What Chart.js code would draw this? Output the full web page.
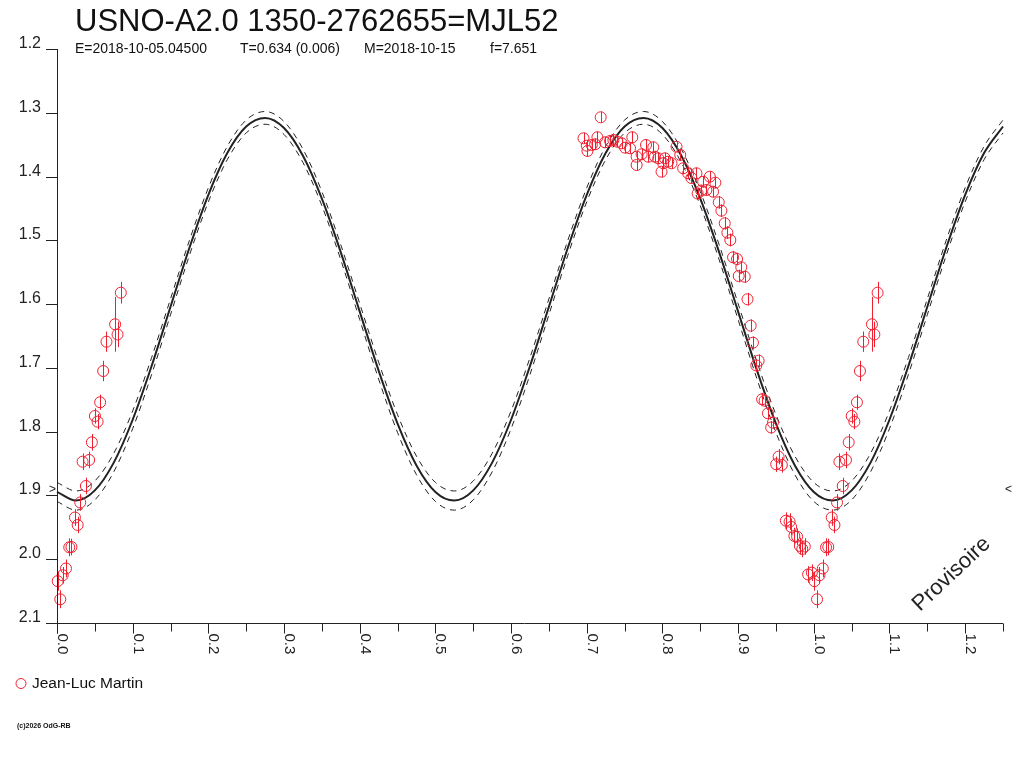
<!DOCTYPE html>
<html>
<head>
<meta charset="utf-8">
<script src="https://cdn.jsdelivr.net/npm/chart.js@4/dist/chart.umd.min.js"></script>
<style>
  html, body { margin: 0; padding: 0; background: #fff; }
  #wrap { width: 1024px; height: 768px; }
</style>
</head>
<body>
<div id="wrap"><canvas id="lc" width="1024" height="768"></canvas></div>
<script>
// observed phases / magnitudes / errors (phases >= 1 are also shown at phase - 1)
const obsPhase = [
  0.6957, 0.7000, 0.7009, 0.7066, 0.7111, 0.7141, 0.7184, 0.7242, 0.7308, 0.7352,
  0.7404, 0.7461, 0.7506, 0.7572, 0.7602, 0.7659, 0.7659, 0.7725, 0.7783, 0.7813,
  0.7879, 0.7901, 0.7945, 0.7988, 0.8011, 0.8033, 0.8076, 0.8120, 0.8186, 0.8235,
  0.8274, 0.8340, 0.8383, 0.8449, 0.8465, 0.8511, 0.8538, 0.8581, 0.8626, 0.8669,
  0.8699, 0.8744, 0.8779, 0.8823, 0.8858, 0.8897, 0.8933, 0.8986, 0.9008, 0.9042,
  0.9087, 0.9124, 0.9166, 0.9196, 0.9240, 0.9271, 0.9317, 0.9350, 0.9394, 0.9437,
  0.9460, 0.9503, 0.9535, 0.9578, 0.9631, 0.9680, 0.9701, 0.9743, 0.9780, 0.9816,
  0.9848, 0.9881, 0.9925, 0.9974, 1.0009, 1.0043, 1.0075, 1.0119, 1.0162, 1.0191,
  1.0237, 1.0273, 1.0307, 1.0338, 1.0382, 1.0425, 1.0461, 1.0501, 1.0536, 1.0570,
  1.0610, 1.0654, 1.0768, 1.0800, 1.0843
];
const obsMag = [
  1.3400, 1.3516, 1.3599, 1.3505, 1.3494, 1.3384, 1.3071, 1.3463, 1.3442, 1.3427,
  1.3453, 1.3479, 1.3547, 1.3557, 1.3384, 1.3689, 1.3819, 1.3651, 1.3505, 1.3689,
  1.3541, 1.3689, 1.3714, 1.3924, 1.3792, 1.3714, 1.3767, 1.3792, 1.3532, 1.3661,
  1.3870, 1.3949, 1.4023, 1.3949, 1.4266, 1.4219, 1.4081, 1.4211, 1.4002, 1.4237,
  1.4096, 1.4404, 1.4535, 1.4733, 1.4880, 1.4995, 1.5266, 1.5293, 1.5559, 1.5423,
  1.5570, 1.5924, 1.6338, 1.6605, 1.6962, 1.6887, 1.7492, 1.7514, 1.7712, 1.7934,
  1.7859, 1.8511, 1.8392, 1.8522, 1.9396, 1.9411, 1.9494, 1.9636, 1.9647, 1.9792,
  1.9839, 1.9800, 2.0239, 2.0211, 2.0344, 2.0628, 2.0252, 2.0145, 1.9813, 1.9808,
  1.9346, 1.9463, 1.9110, 1.8471, 1.8852, 1.8444, 1.8167, 1.7754, 1.7843, 1.7539,
  1.7049, 1.6589, 1.6316, 1.6476, 1.5821
];
const obsErr = [
  0.009, 0.009, 0.009, 0.009, 0.009, 0.009, 0.009, 0.009, 0.009, 0.009,
  0.009, 0.009, 0.009, 0.009, 0.009, 0.009, 0.009, 0.009, 0.009, 0.009,
  0.009, 0.009, 0.009, 0.009, 0.009, 0.009, 0.009, 0.009, 0.009, 0.009,
  0.009, 0.009, 0.009, 0.009, 0.009, 0.009, 0.009, 0.009, 0.009, 0.009,
  0.009, 0.010, 0.010, 0.010, 0.010, 0.010, 0.010, 0.010, 0.010, 0.010,
  0.010, 0.010, 0.010, 0.010, 0.010, 0.010, 0.010, 0.010, 0.010, 0.010,
  0.010, 0.012, 0.012, 0.012, 0.013, 0.013, 0.013, 0.013, 0.013, 0.013,
  0.013, 0.013, 0.013, 0.013, 0.015, 0.014, 0.013, 0.014, 0.014, 0.013,
  0.013, 0.013, 0.013, 0.013, 0.013, 0.013, 0.013, 0.012, 0.012, 0.012,
  0.016, 0.016, 0.043, 0.020, 0.017
];

// fitted curve, with its two dashed envelopes
const fitPhase = [
  0.000, 0.025, 0.050, 0.075, 0.100, 0.125, 0.150, 0.175, 0.200, 0.225,
  0.250, 0.275, 0.300, 0.325, 0.350, 0.375, 0.400, 0.425, 0.450, 0.475,
  0.500, 0.525, 0.550, 0.575, 0.600, 0.625, 0.650, 0.675, 0.700, 0.725,
  0.750, 0.775, 0.800, 0.825, 0.850, 0.875, 0.900, 0.925, 0.950, 0.975,
  1.000, 1.025, 1.050, 1.075, 1.100, 1.125, 1.150, 1.175, 1.200, 1.225,
  1.250
];
const fitMag = [
  1.8945, 1.9080, 1.8921, 1.8485, 1.7813, 1.6971, 1.6042, 1.5117, 1.4286, 1.3631,
  1.3215, 1.3080, 1.3239, 1.3675, 1.4347, 1.5189, 1.6118, 1.7043, 1.7874, 1.8529,
  1.8945, 1.9080, 1.8921, 1.8485, 1.7813, 1.6971, 1.6042, 1.5117, 1.4286, 1.3631,
  1.3215, 1.3080, 1.3239, 1.3675, 1.4347, 1.5189, 1.6118, 1.7043, 1.7874, 1.8529,
  1.8945, 1.9080, 1.8921, 1.8485, 1.7813, 1.6971, 1.6042, 1.5117, 1.4286, 1.3631,
  1.3215
];
const fitUpper = [
  1.8796, 1.8930, 1.8773, 1.8340, 1.7674, 1.6839, 1.5918, 1.5000, 1.4176, 1.3526,
  1.3114, 1.2980, 1.3137, 1.3570, 1.4236, 1.5071, 1.5992, 1.6910, 1.7734, 1.8384,
  1.8796, 1.8930, 1.8773, 1.8340, 1.7674, 1.6839, 1.5918, 1.5000, 1.4176, 1.3526,
  1.3114, 1.2980, 1.3137, 1.3570, 1.4236, 1.5071, 1.5992, 1.6910, 1.7734, 1.8384,
  1.8796, 1.8930, 1.8773, 1.8340, 1.7674, 1.6839, 1.5918, 1.5000, 1.4176, 1.3526,
  1.3114
];
const fitLower = [
  1.9094, 1.9230, 1.9070, 1.8630, 1.7953, 1.7104, 1.6167, 1.5234, 1.4396, 1.3735,
  1.3316, 1.3180, 1.3340, 1.3780, 1.4457, 1.5306, 1.6243, 1.7176, 1.8014, 1.8675,
  1.9094, 1.9230, 1.9070, 1.8630, 1.7953, 1.7104, 1.6167, 1.5234, 1.4396, 1.3735,
  1.3316, 1.3180, 1.3340, 1.3780, 1.4457, 1.5306, 1.6243, 1.7176, 1.8014, 1.8675,
  1.9094, 1.9230, 1.9070, 1.8630, 1.7953, 1.7104, 1.6167, 1.5234, 1.4396, 1.3735,
  1.3316
];

const xTickLabels = ['0.0', '0.1', '0.2', '0.3', '0.4', '0.5', '0.6', '0.7', '0.8', '0.9', '1.0', '1.1', '1.2'];
const yTickLabels = ['1.2', '1.3', '1.4', '1.5', '1.6', '1.7', '1.8', '1.9', '2.0', '2.1'];
const markLevel = 1.891;

const RED = 'rgb(240,32,48)';
const INK = '#222';
const FONT = '"Liberation Sans", Arial, sans-serif';

// build point list, folding phases above 1 back onto the left
const obsPoints = [];
obsPhase.forEach((p, i) => {
  obsPoints.push({ x: p, y: obsMag[i], e: obsErr[i] });
  if (p >= 1) obsPoints.push({ x: p - 1, y: obsMag[i], e: obsErr[i] });
});
const toXY = (ys) => fitPhase.map((p, i) => ({ x: p, y: ys[i] }));

// vertical error bars through each circle
const errorBars = {
  id: 'errorBars',
  afterDatasetsDraw(chart) {
    const { ctx, scales: { x, y } } = chart;
    ctx.save();
    ctx.strokeStyle = RED;
    ctx.lineWidth = 1;
    ctx.beginPath();
    obsPoints.forEach(pt => {
      const px = Math.round(x.getPixelForValue(pt.x)) + 0.5;
      ctx.moveTo(px, y.getPixelForValue(pt.y - pt.e));
      ctx.lineTo(px, y.getPixelForValue(pt.y + pt.e));
    });
    ctx.stroke();
    ctx.restore();
  }
};

// axes, ticks and all the texts around the plot
const frame = {
  id: 'frame',
  afterDraw(chart) {
    const { ctx, chartArea: a, scales: { x, y } } = chart;
    ctx.save();
    ctx.strokeStyle = INK;
    ctx.fillStyle = INK;
    ctx.lineWidth = 1;

    const x0 = Math.round(x.getPixelForValue(0)) + 0.5;
    const yb = Math.round(y.getPixelForValue(2.1)) + 0.5;
    ctx.beginPath();
    ctx.moveTo(46, yb); ctx.lineTo(a.right, yb);
    ctx.moveTo(x0, a.top); ctx.lineTo(x0, yb + 10);
    // x ticks every 0.05
    for (let i = 0; i <= 25; i++) {
      const px = Math.round(x.getPixelForValue(i * 0.05)) + 0.5;
      ctx.moveTo(px, yb); ctx.lineTo(px, yb + (i % 2 === 0 ? 10 : 8));
    }
    // y ticks
    yTickLabels.forEach(l => {
      const py = Math.round(y.getPixelForValue(parseFloat(l))) + 0.5;
      ctx.moveTo(46, py); ctx.lineTo(x0, py);
    });
    ctx.stroke();

    ctx.font = '16px ' + FONT;
    ctx.textAlign = 'right';
    ctx.textBaseline = 'alphabetic';
    yTickLabels.forEach(l => {
      const py = y.getPixelForValue(parseFloat(l));
      ctx.fillText(l, 41, py - 1);
    });

    ctx.font = '15px ' + FONT;
    ctx.textAlign = 'left';
    xTickLabels.forEach(l => {
      const px = x.getPixelForValue(parseFloat(l));
      ctx.save();
      ctx.translate(px + 1, yb + 10);
      ctx.rotate(Math.PI / 2);
      ctx.fillText(l, 0, 0);
      ctx.restore();
    });

    // level markers at both edges
    const my = y.getPixelForValue(markLevel);
    ctx.font = '12px ' + FONT;
    ctx.textBaseline = 'middle';
    ctx.textAlign = 'right';
    ctx.fillText('>', 56, my);
    ctx.textAlign = 'left';
    ctx.fillText('<', a.right + 2, my);

    // titles
    ctx.fillStyle = '#111';
    ctx.textBaseline = 'alphabetic';
    ctx.font = '31px ' + FONT;
    ctx.fillText('USNO-A2.0 1350-2762655=MJL52', 75, 31);
    ctx.font = '14px ' + FONT;
    ctx.fillText('E=2018-10-05.04500', 75, 53);
    ctx.fillText('T=0.634 (0.006)', 240, 53);
    ctx.fillText('M=2018-10-15', 364, 53);
    ctx.fillText('f=7.651', 490, 53);

    // watermark
    ctx.save();
    ctx.translate(920, 612);
    ctx.rotate(-Math.PI * 0.24);
    ctx.font = '22px ' + FONT;
    ctx.fillStyle = INK;
    ctx.fillText('Provisoire', 0, 0);
    ctx.restore();

    // legend
    ctx.strokeStyle = RED;
    ctx.beginPath();
    ctx.arc(21, 683.5, 5, 0, Math.PI * 2);
    ctx.stroke();
    ctx.fillStyle = '#111';
    ctx.font = '15.5px ' + FONT;
    ctx.textBaseline = 'middle';
    ctx.fillText('Jean-Luc Martin', 32, 684);

    ctx.font = 'bold 7px ' + FONT;
    ctx.fillText('(c)2026 OdG-RB', 17, 726);
    ctx.restore();
  }
};

const fitLine = (data, width, dash) => ({
  type: 'scatter',
  data,
  showLine: true,
  borderColor: INK,
  borderWidth: width,
  borderDash: dash,
  pointRadius: 0,
  cubicInterpolationMode: 'monotone',
  fill: false
});

new Chart(document.getElementById('lc').getContext('2d'), {
  type: 'scatter',
  data: {
    datasets: [
      {
        label: 'Jean-Luc Martin',
        data: obsPoints,
        pointStyle: 'circle',
        pointRadius: 5.5,
        borderColor: RED,
        backgroundColor: 'rgba(0,0,0,0)',
        borderWidth: 1
      },
      fitLine(toXY(fitMag), 2, []),
      fitLine(toXY(fitUpper), 1, [6, 5]),
      fitLine(toXY(fitLower), 1, [6, 5])
    ]
  },
  options: {
    responsive: false,
    animation: false,
    devicePixelRatio: 1,
    clip: false,
    layout: { padding: { left: 57, top: 49, right: 21, bottom: 145 } },
    scales: {
      x: { type: 'linear', min: 0, max: 1.25, display: false },
      y: { type: 'linear', min: 1.2, max: 2.1, reverse: true, display: false }
    },
    plugins: {
      legend: { display: false },
      tooltip: { enabled: false }
    }
  },
  plugins: [errorBars, frame]
});
</script>
</body>
</html>
